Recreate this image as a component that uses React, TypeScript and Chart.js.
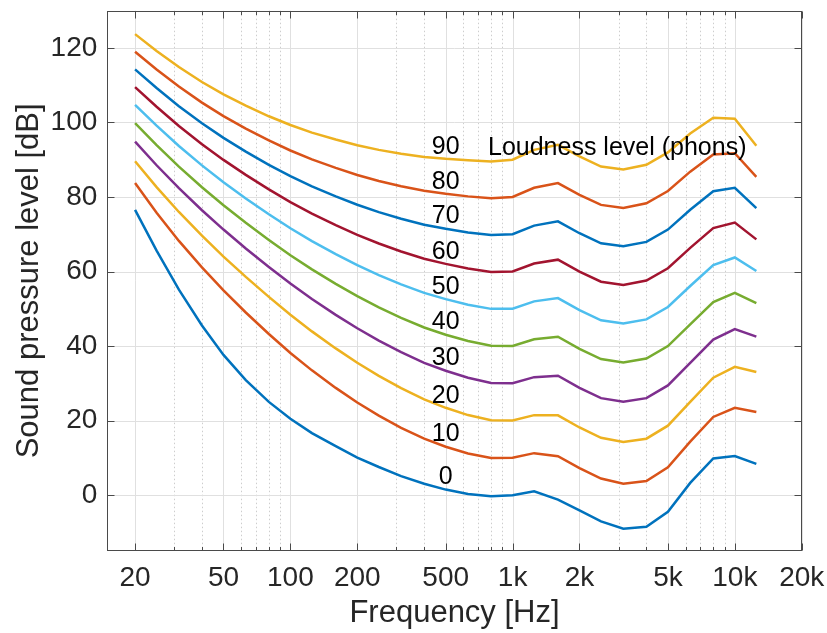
import React, { useEffect, useRef } from 'react';
import { Chart, registerables } from 'chart.js';

Chart.register(...registerables);

// ISO 226 equal-loudness contours
const frequencies = [20, 25, 31.5, 40, 50, 63, 80, 100, 125, 160, 200, 250, 315, 400, 500, 630, 800, 1000, 1250, 1600, 2000, 2500, 3150, 4000, 5000, 6300, 8000, 10000, 12500];

const phonLevels = [0, 10, 20, 30, 40, 50, 60, 70, 80, 90];

const spl0 = [76.55, 65.62, 55.12, 45.53, 37.63, 30.87, 25.02, 20.51, 16.65, 13.12, 10.08, 7.54, 5.11, 3.06, 1.48, 0.30, -0.30, -0.01, 1.03, -1.19, -4.11, -7.05, -9.03, -8.50, -4.48, 3.28, 9.83, 10.48, 8.38];
const spl10 = [83.75, 75.76, 68.21, 61.14, 54.96, 49.01, 43.24, 38.13, 33.48, 28.77, 24.84, 21.33, 18.05, 15.14, 12.98, 11.18, 9.99, 10.0, 11.26, 10.43, 7.27, 4.45, 3.04, 3.80, 7.46, 14.35, 20.98, 23.43, 22.33];
const spl20 = [89.58, 82.65, 75.98, 69.62, 64.02, 58.55, 53.19, 48.38, 43.94, 39.37, 35.51, 31.99, 28.69, 25.67, 23.43, 21.48, 20.10, 20.01, 21.46, 21.40, 18.15, 15.38, 14.26, 15.14, 18.64, 25.02, 31.52, 34.43, 33.04];
const spl30 = [94.85, 88.52, 82.36, 76.45, 71.26, 66.20, 61.22, 56.76, 52.64, 48.38, 44.78, 41.47, 38.36, 35.50, 33.37, 31.49, 30.11, 30.0, 31.65, 32.04, 28.76, 26.03, 25.05, 26.02, 29.43, 35.48, 41.74, 44.57, 42.55];
const spl40 = [99.85, 93.94, 88.17, 82.63, 77.78, 73.08, 68.48, 64.37, 60.59, 56.70, 53.41, 50.40, 47.58, 44.98, 43.05, 41.34, 40.06, 40.01, 41.82, 42.51, 39.23, 36.51, 35.61, 36.65, 40.01, 45.83, 51.80, 54.28, 51.49];
const spl50 = [104.72, 99.14, 93.69, 88.49, 83.96, 79.61, 75.36, 71.61, 68.17, 64.68, 61.72, 59.04, 56.55, 54.26, 52.59, 51.10, 49.98, 50.0, 51.99, 52.88, 49.62, 46.91, 46.05, 47.15, 50.48, 56.11, 61.76, 63.78, 60.13];
const spl60 = [109.51, 104.23, 99.08, 94.18, 89.96, 85.94, 82.05, 78.65, 75.56, 72.47, 69.86, 67.53, 65.39, 63.45, 62.05, 60.82, 59.89, 60.0, 62.16, 63.19, 59.96, 57.26, 56.42, 57.57, 60.89, 66.36, 71.66, 73.16, 68.63];
const spl70 = [114.26, 109.25, 104.38, 99.78, 95.87, 92.18, 88.64, 85.60, 82.85, 80.17, 77.92, 75.94, 74.16, 72.58, 71.47, 70.50, 69.78, 70.0, 72.32, 73.47, 70.28, 67.58, 66.76, 67.95, 71.26, 76.59, 81.54, 82.46, 77.04];
const spl80 = [118.99, 114.23, 109.65, 105.34, 101.72, 98.36, 95.17, 92.48, 90.09, 87.82, 85.92, 84.31, 82.89, 81.68, 80.86, 80.17, 79.67, 80.0, 82.48, 83.74, 80.59, 77.89, 77.07, 78.31, 81.62, 86.81, 91.41, 91.74, 85.41];
const spl90 = [123.71, 119.20, 114.88, 110.87, 107.55, 104.51, 101.67, 99.33, 97.29, 95.43, 93.89, 92.65, 91.60, 90.76, 90.24, 89.84, 89.55, 90.0, 92.65, 94.00, 90.88, 88.18, 87.38, 88.66, 91.96, 97.02, 101.26, 100.99, 93.75];

const contours = [spl0, spl10, spl20, spl30, spl40, spl50, spl60, spl70, spl80, spl90];

const xTickValues = [20, 50, 100, 200, 500, 1000, 2000, 5000, 10000, 20000];
const xTickLabels = ['20', '50', '100', '200', '500', '1k', '2k', '5k', '10k', '20k'];
const xMinorValues = [30, 40, 60, 70, 80, 90, 300, 400, 600, 700, 800, 900, 3000, 4000, 6000, 7000, 8000, 9000];
const yTickValues = [0, 20, 40, 60, 80, 100, 120];
const yTickLabels = ['0', '20', '40', '60', '80', '100', '120'];

const lineColors = ['#0072BD', '#D95319', '#EDB120', '#7E2F8E', '#77AC30', '#4DBEEE', '#A2142F', '#0072BD', '#D95319', '#EDB120'];

const labelFrequency = 500;
const legendText = 'Loudness level (phons)';
const legendFrequency = 775;
const legendLevel = 91.2;

const FONT = '"Liberation Sans", Arial, Helvetica, sans-serif';
const AXIS_COLOR = '#262626';

const matlabAxes = {
  id: 'matlabAxes',
  beforeDatasetsDraw(chart: any) {
    const { ctx, chartArea: ca, scales } = chart;
    const x = scales.x;
    const y = scales.y;
    ctx.save();
    ctx.lineWidth = 1;
    const vline = (v: number) => {
      const px = Math.round(x.getPixelForValue(v)) + 0.5;
      ctx.beginPath();
      ctx.moveTo(px, ca.top);
      ctx.lineTo(px, ca.bottom);
      ctx.stroke();
    };
    ctx.strokeStyle = '#cdcdcd';
    ctx.setLineDash([1.5, 2.5]);
    xMinorValues.forEach(vline);
    ctx.setLineDash([]);
    ctx.strokeStyle = '#e0e0e0';
    xTickValues.forEach(vline);
    yTickValues.forEach((v) => {
      const py = Math.round(y.getPixelForValue(v)) + 0.5;
      ctx.beginPath();
      ctx.moveTo(ca.left, py);
      ctx.lineTo(ca.right, py);
      ctx.stroke();
    });
    ctx.restore();
  },
  afterDatasetsDraw(chart: any) {
    const { ctx, chartArea: ca, scales } = chart;
    const x = scales.x;
    const y = scales.y;
    ctx.save();
    ctx.strokeStyle = '#4a4a4a';
    ctx.lineWidth = 1;
    const seg = (x1: number, y1: number, x2: number, y2: number) => {
      ctx.beginPath();
      ctx.moveTo(x1, y1);
      ctx.lineTo(x2, y2);
      ctx.stroke();
    };
    const L = Math.round(ca.left) + 0.5;
    const R = Math.round(ca.right) - 0.5;
    const T = Math.round(ca.top) + 0.5;
    const B = Math.round(ca.bottom) - 0.5;
    xTickValues.forEach((v) => {
      const px = Math.round(x.getPixelForValue(v)) + 0.5;
      seg(px, B, px, B - 7);
      seg(px, T, px, T + 7);
    });
    xMinorValues.forEach((v) => {
      const px = Math.round(x.getPixelForValue(v)) + 0.5;
      seg(px, B, px, B - 3.5);
      seg(px, T, px, T + 3.5);
    });
    yTickValues.forEach((v) => {
      const py = Math.round(y.getPixelForValue(v)) + 0.5;
      seg(L, py, L + 7, py);
      seg(R, py, R - 7, py);
    });
    ctx.strokeRect(L, T, R - L, B - T);

    // curve labels
    ctx.fillStyle = '#000000';
    ctx.font = `25px ${FONT}`;
    ctx.textAlign = 'center';
    ctx.textBaseline = 'alphabetic';
    const idx = frequencies.indexOf(labelFrequency);
    const lx = x.getPixelForValue(labelFrequency);
    contours.forEach((c, i) => {
      ctx.fillText(String(phonLevels[i]), lx, y.getPixelForValue(c[idx]) - 5.3);
    });
    ctx.textAlign = 'left';
    ctx.fillText(legendText, x.getPixelForValue(legendFrequency), y.getPixelForValue(legendLevel));
    ctx.restore();
  },
};

const zeroPadding = (s: any) => {
  s.paddingLeft = 0;
  s.paddingRight = 0;
  s.paddingTop = 0;
  s.paddingBottom = 0;
};

export default function App() {
  const canvasRef = useRef<HTMLCanvasElement | null>(null);

  useEffect(() => {
    const canvas = canvasRef.current;
    if (!canvas) return;
    const chart = new Chart(canvas, {
      type: 'line',
      data: {
        datasets: contours.map((c, i) => ({
          label: `${phonLevels[i]} phon`,
          data: frequencies.map((f, j) => ({ x: f, y: c[j] })),
          borderColor: lineColors[i],
          backgroundColor: lineColors[i],
          borderWidth: 2.5,
          pointRadius: 0,
          tension: 0,
          fill: false,
        })),
      },
      options: {
        animation: false,
        responsive: false,
        maintainAspectRatio: false,
        devicePixelRatio: 1,
        layout: { padding: { left: 11, right: 25.3, top: 10.7, bottom: 1 } },
        plugins: {
          legend: { display: false },
          tooltip: { enabled: false },
          title: { display: false },
        },
        scales: {
          x: {
            type: 'logarithmic',
            min: 15,
            max: 20000,
            afterBuildTicks: (s: any) => {
              s.ticks = xTickValues.map((v) => ({ value: v }));
            },
            afterFit: (s: any) => {
              s.height = 81;
              zeroPadding(s);
            },
            grid: { display: false, drawTicks: false },
            border: { display: false },
            ticks: {
              autoSkip: false,
              maxRotation: 0,
              minRotation: 0,
              padding: 10,
              color: AXIS_COLOR,
              font: { size: 28, family: FONT },
              callback: (_v: any, i: number) => xTickLabels[i],
            },
            title: {
              display: true,
              text: 'Frequency [Hz]',
              color: AXIS_COLOR,
              font: { size: 31, family: FONT },
              padding: 0,
            },
          },
          y: {
            type: 'linear',
            min: -15,
            max: 130,
            afterBuildTicks: (s: any) => {
              s.ticks = yTickValues.map((v) => ({ value: v }));
            },
            afterFit: (s: any) => {
              s.width = 96.3;
              zeroPadding(s);
            },
            grid: { display: false, drawTicks: false },
            border: { display: false },
            ticks: {
              padding: 10,
              color: AXIS_COLOR,
              font: { size: 28, family: FONT },
              callback: (_v: any, i: number) => yTickLabels[i],
            },
            title: {
              display: true,
              text: 'Sound pressure level [dB]',
              color: AXIS_COLOR,
              font: { size: 31, family: FONT },
              padding: 0,
            },
          },
        },
      } as any,
      plugins: [matlabAxes],
    });
    return () => chart.destroy();
  }, []);

  return (
    <div style={{ position: 'fixed', left: 0, top: 0, width: 827, height: 633, background: '#ffffff' }}>
      <canvas ref={canvasRef} width={827} height={633} style={{ display: 'block', width: 827, height: 633 }} />
    </div>
  );
}
